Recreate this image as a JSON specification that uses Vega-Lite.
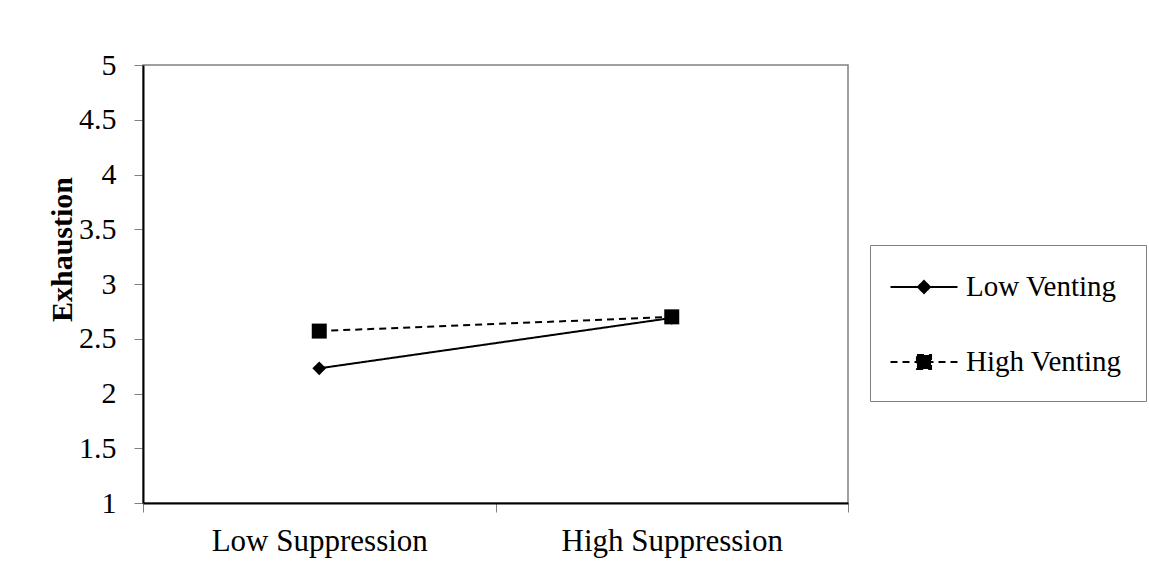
{
  "$schema": "https://vega.github.io/schema/vega-lite/v6.json",
  "autosize": "none",
  "width": 705,
  "height": 438,
  "padding": {"left": 143, "top": 65, "right": 301, "bottom": 81},
  "background": "white",
  "config": {
    "font": "Liberation Serif",
    "view": {"stroke": "#808080", "strokeWidth": 1.5}
  },
  "data": {
    "values": [
      {"Suppression": "Low Suppression", "Venting": "Low Venting", "Exhaustion": 2.23},
      {"Suppression": "High Suppression", "Venting": "Low Venting", "Exhaustion": 2.69},
      {"Suppression": "Low Suppression", "Venting": "High Venting", "Exhaustion": 2.57},
      {"Suppression": "High Suppression", "Venting": "High Venting", "Exhaustion": 2.70}
    ]
  },
  "encoding": {
    "x": {
      "field": "Suppression",
      "type": "nominal",
      "sort": ["Low Suppression", "High Suppression"],
      "scale": {"type": "band", "paddingInner": 0, "paddingOuter": 0},
      "axis": {
        "title": null,
        "labelAngle": 0,
        "labelFont": "Liberation Serif",
        "labelFontSize": 31,
        "labelColor": "black",
        "labelPadding": 14,
        "labelLimit": 0,
        "tickBand": "extent",
        "tickSize": 9,
        "tickColor": "#808080",
        "domainColor": "black",
        "domainWidth": 2
      }
    },
    "y": {
      "field": "Exhaustion",
      "type": "quantitative",
      "scale": {"domain": [1, 5], "nice": false, "zero": false},
      "axis": {
        "values": [1, 1.5, 2, 2.5, 3, 3.5, 4, 4.5, 5],
        "format": "~g",
        "grid": false,
        "title": "Exhaustion",
        "titleFont": "Liberation Serif",
        "titleFontSize": 30,
        "titleFontWeight": "bold",
        "titleColor": "black",
        "titleAngle": -90,
        "titleX": -81,
        "titleY": 184,
        "titleAlign": "center",
        "titleBaseline": "middle",
        "labelFont": "Liberation Serif",
        "labelFontSize": 30,
        "labelColor": "black",
        "labelPadding": 18,
        "tickSize": 9,
        "tickColor": "#808080",
        "domainColor": "black",
        "domainWidth": 2
      }
    }
  },
  "layer": [
    {
      "mark": {"type": "line", "color": "black", "strokeWidth": 2},
      "encoding": {
        "strokeDash": {
          "field": "Venting",
          "type": "nominal",
          "scale": {"domain": ["Low Venting", "High Venting"], "range": [[1, 0], [7, 5]]},
          "legend": {
            "title": null,
            "orient": "none",
            "legendX": 727,
            "legendY": 180,
            "strokeColor": "#808080",
            "padding": 24,
            "labelFont": "Liberation Serif",
            "labelFontSize": 29,
            "labelColor": "black",
            "labelOffset": 24,
            "symbolOffset": 12,
            "rowPadding": 42,
            "symbolSize": 1122,
            "symbolFillColor": "black",
            "symbolStrokeColor": "black",
            "symbolStrokeWidth": 2,
            "encode": {
              "symbols": {
                "update": {
                  "shape": {"signal": "datum.value === 'Low Venting' ? 'M-2,0H2M0,-0.36L0.36,0L0,0.36L-0.36,0Z' : 'M-2,0H2M-0.42,-0.42H0.42V0.42H-0.42Z'"},
                  "fill": {"value": "black"},
                  "fillOpacity": {"value": 1},
                  "stroke": {"value": "black"},
                  "strokeWidth": {"value": 2},
                  "size": {"value": 1122}
                }
              }
            }
          }
        }
      }
    },
    {
      "transform": [{"filter": "datum.Venting === 'Low Venting'"}],
      "mark": {"type": "point", "shape": "diamond", "size": 190, "filled": true, "color": "black", "opacity": 1}
    },
    {
      "transform": [{"filter": "datum.Venting === 'High Venting'"}],
      "mark": {"type": "point", "shape": "square", "size": 225, "filled": true, "color": "black", "opacity": 1}
    }
  ]
}
